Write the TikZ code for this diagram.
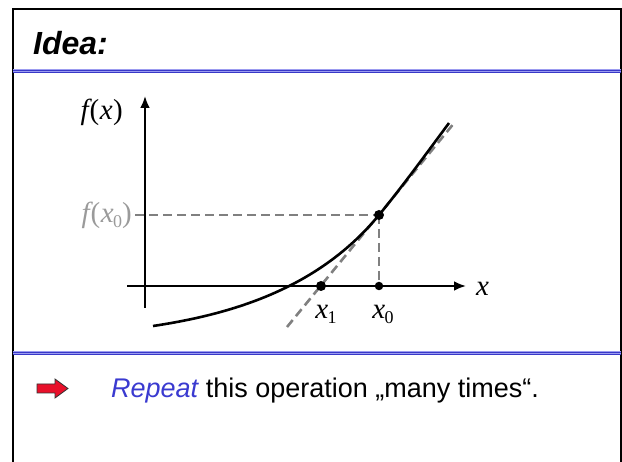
\documentclass[tikz,border=0pt]{standalone}
\usepackage{fontspec}
\setmainfont{Liberation Sans}
\newfontfamily\tms{Liberation Serif}
\definecolor{bluedark}{HTML}{3838C8}
\definecolor{bluelight}{HTML}{9C9CF0}
\definecolor{dashgray}{HTML}{808080}
\definecolor{lblgray}{HTML}{9A9A9A}
\definecolor{txtblue}{HTML}{3A3AD0}
\definecolor{arrred}{HTML}{E8102A}
\tikzset{
  frame/.style={line width=2.2pt, black},
  axis/.style={line width=2.6pt, -{Latex[length=12pt,width=10pt]}},
  curve/.style={line width=2.6pt},
  guide/.style={line width=2.6pt, dashgray, dash pattern=on 9pt off 5pt},
  mathlbl/.style={font=\tms\fontsize{29}{32}\selectfont, inner sep=0pt},
  dot/.style={circle, fill=black, inner sep=0pt, minimum size=#1},
}
\usetikzlibrary{arrows.meta}
\newcommand{\sepline}[1]{%
  \fill[bluelight] (13,#1-2) rectangle (621,#1+2);
  \draw[bluedark, line width=1.1pt] (13,#1-1.4) -- (621,#1-1.4);
  \draw[bluedark, line width=0.9pt] (13,#1+0.5) -- (621,#1+0.5);
}
\newcommand{\sbs}[1]{\kern-0.5pt\raisebox{-5pt}{\upshape\fontsize{18}{20}\selectfont #1}}
\begin{document}
\begin{tikzpicture}[x=1pt,y=-1pt]
\useasboundingbox (0,0) rectangle (622,462);
% frame
\draw[frame] (13,462) -- (13,9) -- (621,9) -- (621,462);
\sepline{71.5}
\sepline{353.5}
% title
\node[anchor=base west, inner sep=0pt, font=\fontsize{32}{35}\selectfont\bfseries\itshape] (title) at (33,55) {Idea:};
% axes
\coordinate (xs) at (127,286);
\coordinate (xe) at (466,286);
\coordinate (ys) at (145,308);
\coordinate (ye) at (145,96);
\draw[axis] (xs) -- (xe);
\draw[axis] (ys) -- (ye);
\node[mathlbl, anchor=west] (xl) at (476,289) {\itshape x};
\node[mathlbl, anchor=east] (fx) at (123,112) {\itshape f\kern1pt\upshape(\kern0.5pt\itshape x\kern0.5pt\upshape)};
\node[mathlbl, anchor=east, text=lblgray] (fx0) at (132,215) {\itshape f\kern1pt\upshape(\kern0.5pt\itshape x\sbs{0}\upshape)};
% points
\coordinate (P) at (379,215);
\coordinate (X0) at (379,286);
\coordinate (X1) at (321,286);
\coordinate (Ts) at (287,327);
\coordinate (Te) at (455,122);
% guides
\draw[guide] (fx0.east) ++(3,0) coordinate (gs) -- (P);
\draw[guide] (P) -- (X0);
\draw[guide] (Ts) -- (Te);
% curve
\draw[curve] (153,326) .. controls (233,314) and (319,288) .. (P)
             .. controls (402,187) and (426,154) .. (449,123);
% dots
\node[dot=10pt] (pd) at (P) {};
\node[dot=8.5pt] (x0d) at (X0) {};
\node[dot=10pt] (x1d) at (X1) {};
\node[mathlbl, anchor=north] (x1l) at (326,305) {\itshape x\sbs{1}};
\node[mathlbl, anchor=north] (x0l) at (383,305) {\itshape x\sbs{0}};
% red arrow
\draw[fill=arrred, draw=black!80, line width=0.8pt] (37,384) -- (55,384) -- (55,379) -- (68,388.5) -- (55,398) -- (55,393) -- (37,393) -- cycle;
% bottom text
\node[anchor=base west, inner sep=0pt, font=\fontsize{27}{30}\selectfont] (rep) at (111,398) {\textcolor{txtblue}{\itshape Repeat} this operation „many times“.};
\end{tikzpicture}
\end{document}
